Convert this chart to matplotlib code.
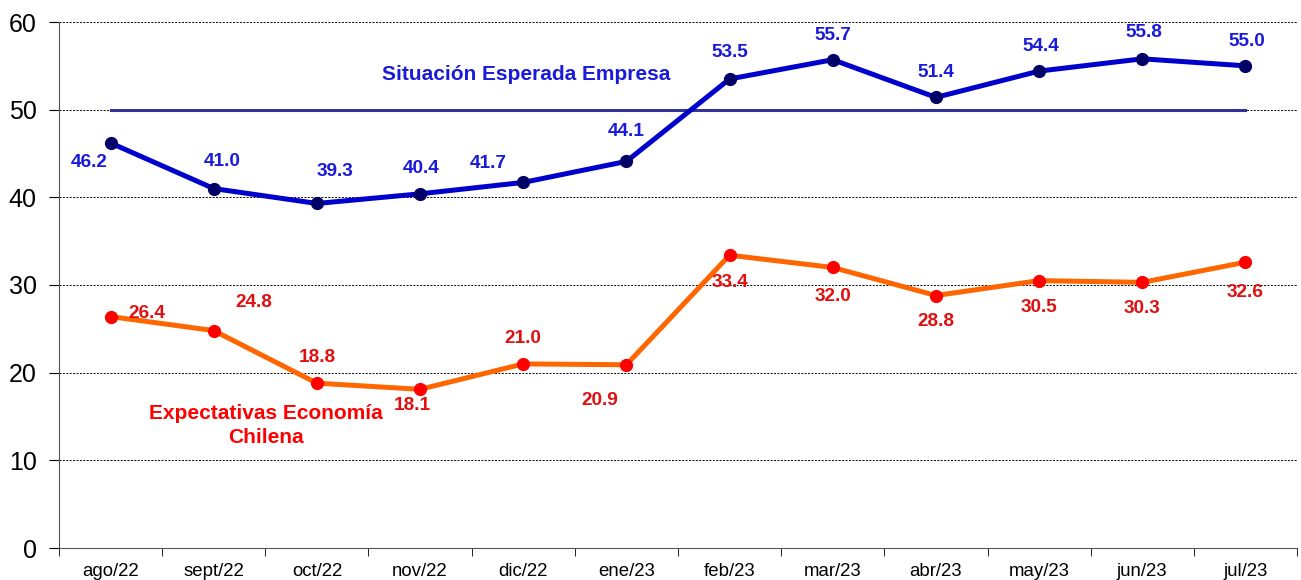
import matplotlib
matplotlib.use("Agg")
import matplotlib.pyplot as plt
import numpy as np

categories = ["ago/22", "sept/22", "oct/22", "nov/22", "dic/22", "ene/23",
              "feb/23", "mar/23", "abr/23", "may/23", "jun/23", "jul/23"]
empresa = [46.2, 41.0, 39.3, 40.4, 41.7, 44.1, 53.5, 55.7, 51.4, 54.4, 55.8, 55.0]
economia = [26.4, 24.8, 18.8, 18.1, 21.0, 20.9, 33.4, 32.0, 28.8, 30.5, 30.3, 32.6]
reference = [50] * len(categories)
yticks = [0, 10, 20, 30, 40, 50, 60]

# label offsets in pixels (dx, dy up-positive)
emp_off = [(-21, -20), (8, 27), (18, 32), (1, 25), (-35, 19), (0, 30),
           (0, 26), (0, 24), (0, 25), (2, 25), (2, 26), (1, 24)]
eco_off = [(36, 3), (40, 28), (0, 26), (-8, -16), (0, 25), (-27, -36),
           (0, -27), (0, -29), (0, -26), (0, -27), (0, -26), (0, -30)]

plt.rcParams['font.family'] = ['Liberation Sans', 'DejaVu Sans']
fig = plt.figure(figsize=(13.01, 5.80), dpi=100)
ax = fig.add_axes([59/1301, 1 - 548/580, (1297 - 59)/1301, (548 - 22)/580])

x = np.arange(len(categories))
ax.set_xlim(-0.5, len(categories) - 0.5)
ax.set_ylim(0, 60)
ax.set_yticks(yticks)
ax.tick_params(axis='y', labelsize=18, length=7, direction='out', pad=9)
for y in yticks[1:]:
    ax.axhline(y, color='black', lw=0.7, ls=(0, (2, 1.5)), zorder=1)

ax.set_xticks(x)
ax.set_xticklabels(categories, fontsize=13.4)
ax.set_xticks(np.arange(-0.5, len(categories)), minor=True)
ax.tick_params(axis='x', which='major', length=0, pad=11)
ax.tick_params(axis='x', which='minor', length=6, direction='out')

for s in ['top', 'right']:
    ax.spines[s].set_visible(False)
ax.spines['left'].set_color('#555555')
ax.spines['bottom'].set_color('#555555')

ax.plot(x, reference, color='#333399', lw=2.2, zorder=2)
ax.plot(x, empresa, color='#0000CC', lw=3.6, marker='o', ms=8.5,
        mfc='#000066', mec='#000066', zorder=4)
ax.plot(x, economia, color='#FF6600', lw=3.6, marker='o', ms=8.5,
        mfc='#FF0000', mec='#FF0000', zorder=3)

for xi, v, (dx, dy) in zip(x, empresa, emp_off):
    ax.annotate(f"{v:.1f}", (xi, v), xytext=(dx, dy), textcoords='offset pixels',
                ha='center', va='center', fontsize=13.7, fontweight='bold', color='#1A1ADB')
for xi, v, (dx, dy) in zip(x, economia, eco_off):
    ax.annotate(f"{v:.1f}", (xi, v), xytext=(dx, dy), textcoords='offset pixels',
                ha='center', va='center', fontsize=13.7, fontweight='bold', color='#E01010')

ax.text(4.03, 54.0, "Situación Esperada Empresa", ha='center', va='center',
        fontsize=15, fontweight='bold', color='#1A1ADB')
ax.text(1.51, 14.0, "Expectativas Economía\nChilena", ha='center', va='center',
        fontsize=15, fontweight='bold', color='#FF0000', linespacing=1.3)

fig.savefig("out.png", dpi=100)
